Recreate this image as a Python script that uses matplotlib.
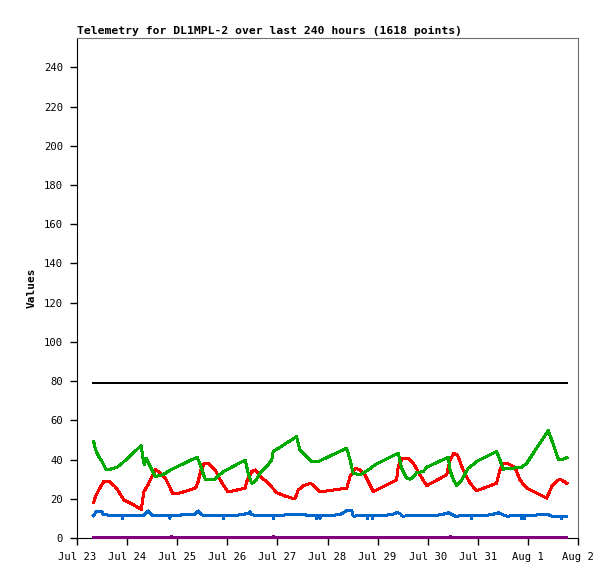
import pandas as pd
import matplotlib
matplotlib.use("Agg")
import matplotlib.pyplot as plt
import matplotlib.dates as mdates
from matplotlib.ticker import FuncFormatter

# hours since Jul 23 00:00
green_h = [8.0, 8.8, 10.4, 12.0, 14.0, 16.0, 19.2, 21.6, 30.7, 31.5, 32.2, 33.1, 34.3, 37.5, 40.7,
           42.3, 44.7, 57.5, 58.8, 61.5, 65.5, 67.1, 70.3, 80.6, 82.0, 83.7, 85.3, 87.7, 90.9, 93.3,
           94.0, 105.2, 106.8, 110.0, 112.4, 115.6, 129.2, 130.8, 132.3, 135.6, 139.5, 142.7, 153.9,
           155.5, 157.9, 159.5, 161.1, 162.7, 165.9, 167.5, 177.9, 178.7, 180.3, 181.9, 184.3, 187.4,
           192.2, 201.0, 202.6, 204.2, 213.0, 215.4, 225.8, 228.2, 230.6, 233.0, 234.6]
green_v = [49.2, 45.3, 41.5, 39.0, 34.7, 35.1, 36.1, 38.1, 47.1, 41.5, 37.3, 40.8, 38.1, 31.3, 32.2,
           33.0, 34.7, 41.2, 38.1, 29.6, 29.6, 31.3, 33.9, 39.8, 33.0, 27.9, 28.8, 33.0, 36.4, 39.8,
           44.1, 51.7, 44.9, 41.5, 39.0, 39.0, 45.8, 39.8, 33.0, 32.2, 34.7, 37.3, 43.3,
           35.6, 30.5, 30.0, 31.0, 33.4, 33.9, 36.1, 41.2, 34.7, 29.6, 26.7, 29.6, 35.6,
           39.5, 44.1, 39.8, 35.1, 36.1, 38.1, 54.8, 47.5, 40.2, 40.2, 41.0]

red_h = [8.0, 8.8, 10.9, 12.8, 15.5, 18.3, 20.0, 22.4, 26.3, 30.8, 32.0, 34.0, 35.9, 37.5, 39.9,
         42.3, 46.0, 47.9, 56.7, 57.8, 59.4, 61.0, 63.1, 66.2, 69.5, 72.2, 75.1, 80.5, 81.3, 83.7,
         85.3, 86.8, 88.5, 90.9, 95.7, 99.6, 104.4, 106.0, 108.4, 111.9, 114.0, 116.4, 119.6, 129.2,
         130.8, 133.2, 135.6, 138.0, 141.9, 153.1, 153.9, 155.8, 158.7, 161.1, 164.3, 167.5, 177.1,
         178.7, 180.6, 182.2, 185.0, 188.3, 191.5, 201.0, 202.6, 204.2, 206.6, 209.8, 212.2, 215.1,
         225.0, 227.4, 230.6, 232.2, 234.6]
red_v = [18.0, 21.1, 25.4, 28.8, 28.8, 26.2, 23.6, 19.4, 17.4, 14.6, 23.6, 27.1, 31.3, 35.1, 33.0,
         30.5, 22.5, 22.5, 25.4, 27.9, 34.7, 38.1, 37.8, 34.7, 27.9, 23.6, 24.1, 25.4, 28.8, 33.9,
         34.7, 33.0, 30.5, 28.8, 23.1, 21.4, 19.9, 24.5, 26.6, 27.9, 26.2, 23.6, 24.0, 25.4,
         31.3, 35.6, 34.7, 32.2, 23.6, 29.6, 36.4, 40.7, 40.7, 38.1, 32.2, 26.7, 32.2,
         39.8, 43.3, 42.4, 34.7, 27.9, 24.1, 27.9, 34.7, 38.1, 37.8, 36.1, 29.6, 25.7,
         20.3, 26.2, 29.6, 29.6, 27.9]

blue_h = [7.8, 9.4, 11.8, 12.6, 16.6, 21.7, 21.9, 22.1, 30.2, 31.8, 34.2, 35.8, 36.5, 44.3, 44.5,
          44.7, 49.3, 56.5, 58.1, 59.7, 60.5, 69.9, 70.1, 70.3, 74.1, 78.9, 82.1, 82.9, 83.7, 86.1,
          93.8, 94.0, 94.2, 98.1, 102.8, 109.2, 110.0, 114.6, 114.8, 115.0, 116.2, 116.4, 116.6,
          123.6, 126.0, 129.2, 131.6, 132.3, 139.0, 139.2, 139.4, 141.4, 141.6, 141.8, 144.3, 150.7,
          153.1, 154.7, 155.8, 169.9, 174.7, 177.9, 179.5, 181.1, 188.9, 189.1, 189.3, 193.9, 198.7,
          201.9, 203.5, 205.8, 212.8, 213.0, 213.2, 214.1, 214.3, 214.5, 217.8, 222.6, 225.8, 227.4,
          232.0, 232.2, 232.4, 234.6]
blue_v = [11.4, 13.6, 13.6, 12.1, 11.4, 11.4, 9.9, 11.4, 11.7, 11.4, 13.8, 11.7, 11.4, 11.4, 9.9,
          11.5, 11.7, 12.1, 13.8, 12.1, 11.4, 11.4, 9.9, 11.4, 11.4, 11.9, 12.6, 13.4, 11.9, 11.4,
          11.5, 9.9, 11.5, 11.6, 12.1, 12.1, 11.4, 11.4, 9.9, 11.4, 11.4, 9.9, 11.5,
          11.7, 11.9, 13.9, 13.9, 11.2, 11.3, 9.9, 11.3, 11.3, 9.9, 11.3, 11.4, 11.9,
          12.9, 12.6, 11.2, 11.4, 11.9, 12.9, 12.1, 11.2, 11.3, 9.9, 11.3, 11.4, 11.9,
          12.9, 12.1, 11.2, 11.3, 9.9, 11.3, 11.3, 9.9, 11.3, 11.4, 12.1, 11.9, 11.2,
          11.2, 9.9, 11.2, 11.2]

purple_h = [7.8, 45.2, 45.4, 45.6, 93.8, 94.0, 94.2, 178.8, 179.0, 179.2, 234.6]
purple_v = [0.4, 0.4, 1.0, 0.4, 0.4, 1.0, 0.4, 0.4, 1.0, 0.4, 0.4]

black_h = [7.8, 234.6]
black_v = [79, 79]

start = pd.Timestamp("2024-07-23")
end = pd.Timestamp("2024-08-02")


def to_time(hours):
    return start + pd.to_timedelta(hours, unit="h")


mono = "DejaVu Sans Mono"
plt.rcParams["font.family"] = mono

fig = plt.figure(figsize=(6.15, 5.79), dpi=100)
ax = fig.add_axes([77 / 615, 41 / 579, 501 / 615, 500 / 579])

series = [
    (black_h, black_v, "black"),
    (red_h, red_v, "#ff0000"),
    (green_h, green_v, "#00aa00"),
    (blue_h, blue_v, "#0066cc"),
]
for h, v, c in series:
    ax.plot(to_time(h), v, color=c, lw=1.44, antialiased=False)
ax.plot(to_time(purple_h), purple_v, color="#800080", lw=1.44, antialiased=False,
        clip_on=False, zorder=3)

ax.set_xlim(start, end)
ax.set_ylim(0, 255)
ax.set_yticks(range(0, 241, 20))
ax.xaxis.set_major_locator(mdates.DayLocator())
ax.xaxis.set_major_formatter(FuncFormatter(lambda x, pos: "{0:%b} {0.day}".format(mdates.num2date(x))))

ax.tick_params(direction="out", length=5, width=1, labelsize=7.6, pad=5, top=False, right=False)
for s in ["top", "right"]:
    ax.spines[s].set_color("#707070")
for s in ["left", "bottom"]:
    ax.spines[s].set_color("black")

ax.set_ylabel("Values", fontsize=8, fontweight="bold", labelpad=5)
ax.set_title("Telemetry for DL1MPL-2 over last 240 hours (1618 points)",
             loc="left", fontsize=8.2, fontweight="bold", pad=3)

fig.savefig("out.png", dpi=100)
